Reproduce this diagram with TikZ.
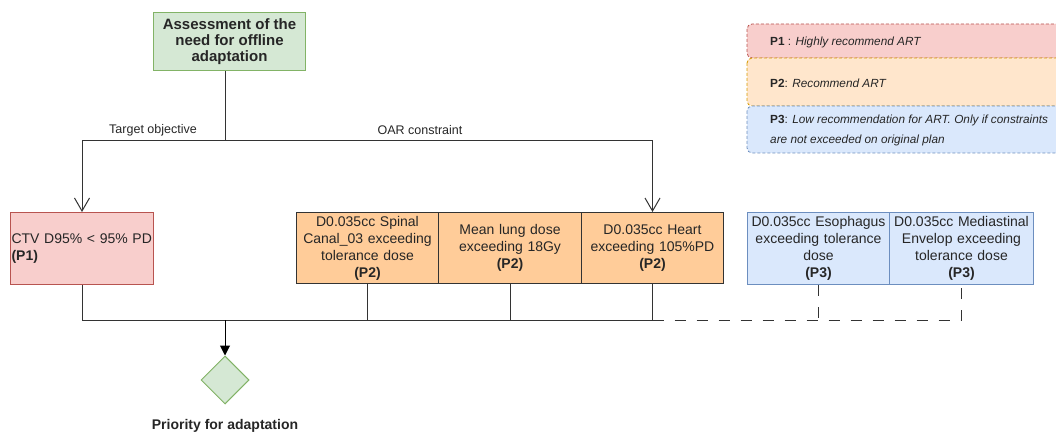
\documentclass[tikz,border=0pt]{standalone}
\usepackage{fontspec}
\setmainfont{Liberation Sans}
\usetikzlibrary{arrows.meta,shapes.geometric}

\definecolor{greenF}{HTML}{D5E8D4}
\definecolor{greenD}{HTML}{82B366}
\definecolor{pinkF}{HTML}{F8CECC}
\definecolor{pinkD}{HTML}{B85450}
\definecolor{orangeF}{HTML}{FFCC99}
\definecolor{orangeL}{HTML}{FFE6CC}
\definecolor{orangeD}{HTML}{D79B00}
\definecolor{blueF}{HTML}{DAE8FC}
\definecolor{blueD}{HTML}{6C8EBF}
\definecolor{ink}{HTML}{262626}
\definecolor{wire}{HTML}{333333}

\tikzset{
  box/.style={draw, line width=1pt, rectangle, anchor=north west, inner sep=2pt,
    text=ink, font=\fontsize{14}{17}\selectfont, align=center},
  oarbox/.style={box, fill=orangeF, draw=wire, minimum height=71pt},
  lowbox/.style={box, fill=blueF, draw=blueD, minimum height=72pt},
  wirestyle/.style={draw=wire, line width=1pt},
  openarrow/.style={wirestyle, -{Straight Barb[length=13pt,width=15pt,line width=1pt]}},
  legendrow/.style={line width=0.8pt, dash pattern=on 3pt off 2pt, rounded corners=5pt},
  legendtext/.style={anchor=west, text=ink, font=\fontsize{11.8}{19.5}\selectfont, align=left, inner sep=0pt},
  branchlabel/.style={text=ink, font=\fontsize{12.5}{14}\selectfont, inner sep=0pt},
}

\begin{document}
\begin{tikzpicture}[x=1pt,y=-1pt]
\useasboundingbox (0,0) rectangle (1056,435);
\clip (0,0) rectangle (1056,435);

% legend of priority levels
\draw[legendrow, fill=pinkF, draw=pinkD] (747,24) rectangle (1075,58);
\draw[legendrow, fill=orangeL, draw=orangeD] (747,58) rectangle (1075,106);
\draw[legendrow, fill=blueF, draw=blueD] (747,106) rectangle (1075,153);
\node[legendtext] (lp1) at (770,42) {\textbf{P1} : \textit{Highly recommend ART}};
\node[legendtext] (lp2) at (770,83) {\textbf{P2}: \textit{Recommend ART}};
\node[legendtext, anchor=north west] (lp3) at (770,115) {\textbf{P3}: \textit{Low recommendation for ART. Only if constraints}\\\textit{are not exceeded on original plan}};

% starting question
\node[box, fill=greenF, draw=greenD, minimum width=152pt, minimum height=58pt,
      font=\bfseries\fontsize{15}{16}\selectfont] (top) at (153,12)
      {Assessment of the\\need for offline\\adaptation};

% target objective
\node[box, fill=pinkF, draw=pinkD, minimum width=143pt, minimum height=72pt,
      inner sep=1pt, text width=141pt, align=left] (ctv) at (10,212)
      {CTV D95\% < 95\% PD\\\textbf{(P1)}};

% organ-at-risk constraints
\node[oarbox, minimum width=142pt, text width=136pt] (spinal) at (296,212)
      {D0.035cc Spinal\\Canal\_03 exceeding\\tolerance dose\\\textbf{(P2)}};
\node[oarbox, minimum width=143pt, text width=137pt] (lung) at (438,212)
      {Mean lung dose\\exceeding 18Gy\\\textbf{(P2)}};
\node[oarbox, minimum width=142pt, text width=136pt] (heart) at (581,212)
      {D0.035cc Heart\\exceeding 105\%PD\\\textbf{(P2)}};
\node[lowbox, minimum width=142pt, text width=138pt] (eso) at (747,212)
      {D0.035cc Esophagus\\exceeding tolerance\\dose\\\textbf{(P3)}};
\node[lowbox, minimum width=144pt, text width=140pt] (med) at (889,212)
      {D0.035cc Mediastinal\\Envelop exceeding\\tolerance dose\\\textbf{(P3)}};

% outcome
\node[diamond, draw=greenD, fill=greenF, line width=1pt, minimum width=48pt,
      minimum height=48pt, inner sep=0pt] (prio) at (225,380) {};
\node[text=ink, font=\bfseries\fontsize{14}{16}\selectfont, inner sep=0pt] (prioL) at (225,426)
      {Priority for adaptation};

% branching from the question
\coordinate (split) at (225,141);
\coordinate (bus) at (225,320);
\draw[wirestyle] (prio.north |- top.south) -- (split);
\draw[openarrow] (split) -| (ctv.north);
\draw[openarrow] (split) -| (heart.north);
\node[branchlabel] (tlab) at (153,130) {Target objective};
\node[branchlabel] (olab) at (420,130) {OAR constraint};

% gathering into the priority
\draw[wirestyle] (ctv.south) |- (heart.south |- bus) -- (heart.south);
\draw[wirestyle] (spinal.south) -- (spinal.south |- bus);
\draw[wirestyle] (lung.south) -- (lung.south |- bus);
\draw[wirestyle, dash pattern=on 11pt off 11pt] (heart.south |- bus) -| (med.south);
\draw[wirestyle, dash pattern=on 11pt off 11pt] (eso.south) -- (eso.south |- bus);
\draw[wirestyle, -{Triangle[length=10pt,width=10pt]}, draw=black] (bus) -- (prio.north);
\end{tikzpicture}
\end{document}
